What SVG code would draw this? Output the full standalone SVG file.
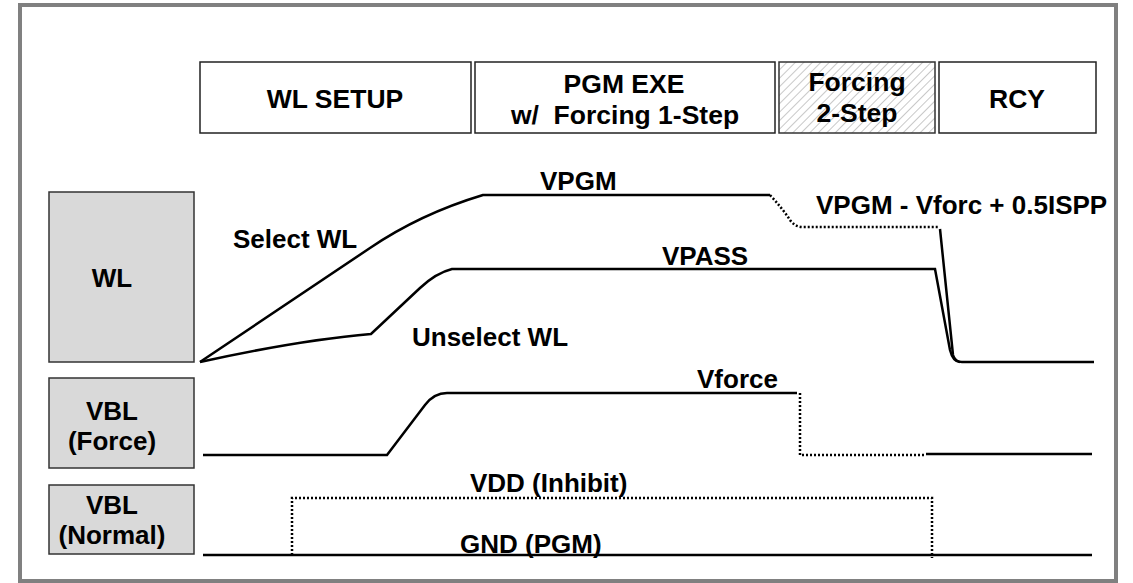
<svg xmlns="http://www.w3.org/2000/svg" width="1133" height="583" viewBox="0 0 1133 583">
<style>
text{font-family:"Liberation Sans",Arial,sans-serif;font-weight:bold;fill:#000;font-size:26px}
.h{font-size:26.5px}
.hdr{fill:#fff;stroke:#222;stroke-width:1.5}
.lbl{fill:#d9d9d9;stroke:#333;stroke-width:1.5}
.w{fill:none;stroke:#000;stroke-width:2.5}
.d{fill:none;stroke:#000;stroke-width:2.5;stroke-dasharray:2 2}
</style>
<defs>
<pattern id="hatch" width="6" height="6" patternUnits="userSpaceOnUse" patternTransform="rotate(45)">
<rect width="6" height="6" fill="#fff"/>
<line x1="0" y1="0" x2="0" y2="6" stroke="#c8c8c8" stroke-width="2"/>
</pattern>
</defs>
<rect x="0" y="0" width="1133" height="583" fill="#fff"/>
<rect x="20" y="5" width="1096" height="576" fill="#fff" stroke="#808080" stroke-width="4"/>
<g id="hdr-wlsetup"><rect class="hdr" x="200" y="62" width="271" height="71"/><text class="h" x="335" y="108" text-anchor="middle">WL SETUP</text></g>
<g id="hdr-pgmexe"><rect class="hdr" x="475" y="62" width="300" height="71"/><text class="h" x="624" y="93" text-anchor="middle">PGM EXE</text><text class="h" x="625" y="124" text-anchor="middle" xml:space="preserve">w/  Forcing 1-Step</text></g>
<g id="hdr-forcing2"><rect x="779" y="62" width="156" height="71" fill="url(#hatch)" stroke="#333" stroke-width="1.5"/><text class="h" x="857" y="91" text-anchor="middle">Forcing</text><text class="h" x="857" y="122" text-anchor="middle">2-Step</text></g>
<g id="hdr-rcy"><rect class="hdr" x="939" y="62" width="157" height="71"/><text class="h" x="1017" y="108" text-anchor="middle">RCY</text></g>
<g id="lbl-wl"><rect class="lbl" x="49" y="192" width="145" height="170"/><text x="112" y="287" text-anchor="middle">WL</text></g>
<g id="lbl-vblforce"><rect class="lbl" x="49" y="378" width="145" height="90"/><text x="112" y="420" text-anchor="middle">VBL</text><text x="112" y="450" text-anchor="middle">(Force)</text></g>
<g id="lbl-vblnormal"><rect class="lbl" x="49" y="485" width="145" height="69"/><text x="112" y="514" text-anchor="middle">VBL</text><text x="112" y="544" text-anchor="middle">(Normal)</text></g>
<g id="connectors">
<path class="w" d="M200,362 L370,248 Q420,214 483,195 L770,195"/>
<path class="d" d="M770,195 Q782,208 790,220 Q795,227 803,227 L938,227"/>
<path class="w" d="M940,229 L953,355 Q955,362 962,362 L1094,362"/>
<path class="w" d="M200,362 Q300,340 371,334 L420,288 Q436,273 452,269 L935,269 L950,350 Q953,362 960,362"/>
<path class="w" d="M203,455 L387,455 L425,405 Q434,393 447,393 L797,393"/>
<path class="d" d="M800,393 L800,455 L926,455"/>
<path class="w" d="M926,454 L1092,454"/>
<path class="w" d="M203,555 L1092,555"/>
<path class="d" d="M292,555 L292,498 L932,498 L932,558"/>
</g>
<g id="labels">
<text x="540" y="190">VPGM</text>
<text x="816" y="214">VPGM - Vforc + 0.5ISPP</text>
<text x="233" y="248">Select WL</text>
<text x="662" y="265">VPASS</text>
<text x="412" y="346">Unselect WL</text>
<text x="697" y="388">Vforce</text>
<text x="470" y="492">VDD (Inhibit)</text>
<text x="460" y="553">GND (PGM)</text>
</g>
</svg>
